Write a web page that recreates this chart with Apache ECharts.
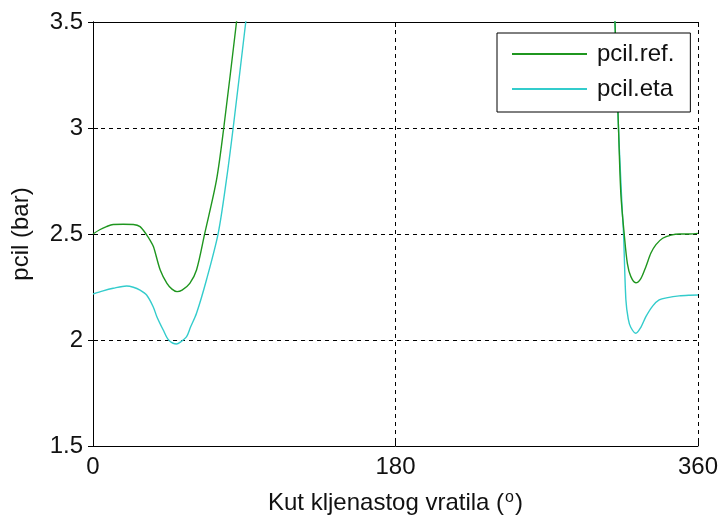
<!DOCTYPE html>
<html>
<head>
<meta charset="utf-8">
<script src="https://cdn.jsdelivr.net/npm/echarts@6/dist/echarts.min.js"></script>
<style>
  html, body { margin: 0; padding: 0; background: #fff; }
  #chart { width: 721px; height: 522px; }
</style>
</head>
<body>
<div id="chart"></div>
<script>
// Crank angle (deg) and cylinder pressure (bar) samples; null = off the plotted range
var angleRef = [0, 4, 8, 12, 18, 24, 28, 32, 34, 36, 40, 44, 47, 50, 53, 57.6, 61.6, 66.5, 73.5, 77.8, 85.4, 89,
                180,
                309.5, 310.6, 312.7, 314.1, 316.1, 318, 320, 323, 326, 329, 332, 335, 339, 344, 349, 355, 360];
var pcilRef  = [2.50, 2.52, 2.535, 2.545, 2.546, 2.545, 2.535, 2.495, 2.47, 2.44, 2.33, 2.267, 2.24, 2.228, 2.235, 2.267, 2.33, 2.503, 2.755, 3.0, 3.5, 3.75,
                null,
                3.75, 3.5, 3.0, 2.69, 2.50, 2.36, 2.30, 2.27, 2.29, 2.346, 2.41, 2.45, 2.48, 2.495, 2.50, 2.50, 2.503];

var angleEta = [0, 6, 12, 20, 24, 28, 31.9, 35.8, 38, 41.8, 45, 49.7, 52, 55.7, 58, 61.6, 67.5, 74.5, 79.4, 83.4, 90.9, 94.5,
                180,
                309.5, 310.6, 312.7, 313.8, 315, 315.7, 317.1, 318.5, 320, 323, 326, 329, 333, 336.9, 342, 348.8, 355, 360];
var pcilEta  = [2.217, 2.232, 2.244, 2.255, 2.249, 2.235, 2.212, 2.157, 2.11, 2.047, 2.00, 1.981, 1.99, 2.016, 2.06, 2.126, 2.283, 2.503, 2.755, 3.0, 3.5, 3.75,
                null,
                3.75, 3.5, 3.0, 2.8, 2.6, 2.503, 2.19, 2.10, 2.06, 2.032, 2.06, 2.11, 2.16, 2.189, 2.20, 2.208, 2.211, 2.212];

var seriesNames = ['pcil.ref.', 'pcil.eta'];
var xTicks = { min: 0, max: 360, interval: 180 };
var yTicks = { min: 1.5, max: 3.5, interval: 0.5 };

function pairs(xs, ys) {
  return xs.map(function (x, i) { return [x, ys[i]]; });
}

var FONT = '"Liberation Sans", Arial, sans-serif';

var chart = echarts.init(document.getElementById('chart'), null, { renderer: 'canvas' });

var baseAxisLine = { show: true, lineStyle: { color: '#000', width: 1 } };
var innerTick = { show: true, inside: true, length: 5, lineStyle: { color: '#000', width: 1 } };
var dashedGrid = { show: true, lineStyle: { color: '#000', type: [4, 4], width: 1 } };

chart.setOption({
  backgroundColor: '#fff',
  animation: false,
  grid: { left: 93, right: 22, top: 22, bottom: 76, show: false },
  legend: {
    data: seriesNames,
    orient: 'vertical',
    left: 497,
    top: 33,
    backgroundColor: '#fff',
    borderColor: '#000',
    borderWidth: 1,
    borderRadius: 0,
    padding: [8, 16, 10, 15],
    itemWidth: 75,
    itemHeight: 2,
    itemGap: 9,
    icon: 'rect',
    textStyle: { fontFamily: FONT, fontSize: 24, lineHeight: 26, color: '#111', padding: [0, 0, 0, 5] }
  },
  xAxis: [
    {
      type: 'value', position: 'bottom',
      min: xTicks.min, max: xTicks.max, interval: xTicks.interval,
      axisLine: baseAxisLine, axisTick: innerTick, splitLine: dashedGrid,
      axisLabel: { fontFamily: FONT, fontSize: 24, color: '#111', margin: 9 },
      name: '{t|Kut kljenastog vratila (}{s|o}{t|)}',
      nameLocation: 'middle', nameGap: 44,
      nameTextStyle: {
        rich: {
          t: { fontFamily: FONT, fontSize: 24, color: '#111' },
          s: { fontFamily: FONT, fontSize: 16, color: '#111', verticalAlign: 'top', padding: [0, 1, 10, 1] }
        }
      }
    },
    {
      type: 'value', position: 'top',
      min: xTicks.min, max: xTicks.max, interval: xTicks.interval,
      axisLine: baseAxisLine, axisTick: innerTick, splitLine: { show: false },
      axisLabel: { show: false }
    }
  ],
  yAxis: [
    {
      type: 'value', position: 'left',
      min: yTicks.min, max: yTicks.max, interval: yTicks.interval,
      axisLine: baseAxisLine, axisTick: innerTick, splitLine: dashedGrid,
      axisLabel: { fontFamily: FONT, fontSize: 24, color: '#111', margin: 10 },
      name: 'pcil (bar)', nameLocation: 'middle', nameGap: 60,
      nameTextStyle: { fontFamily: FONT, fontSize: 24, color: '#111' }
    },
    {
      type: 'value', position: 'right',
      min: yTicks.min, max: yTicks.max, interval: yTicks.interval,
      axisLine: baseAxisLine, axisTick: innerTick, splitLine: { show: false },
      axisLabel: { show: false }
    }
  ],
  series: [
    {
      name: seriesNames[0], type: 'line', xAxisIndex: 0, yAxisIndex: 0,
      data: pairs(angleRef, pcilRef), showSymbol: false, symbol: 'none', clip: true,
      smooth: 0.3, connectNulls: false,
      lineStyle: { color: '#1f961f', width: 1.4 }, itemStyle: { color: '#1f961f' }, z: 3
    },
    {
      name: seriesNames[1], type: 'line', xAxisIndex: 0, yAxisIndex: 0,
      data: pairs(angleEta, pcilEta), showSymbol: false, symbol: 'none', clip: true,
      smooth: 0.3, connectNulls: false,
      lineStyle: { color: '#33cccc', width: 1.4 }, itemStyle: { color: '#33cccc' }, z: 2
    }
  ]
});
</script>
</body>
</html>
